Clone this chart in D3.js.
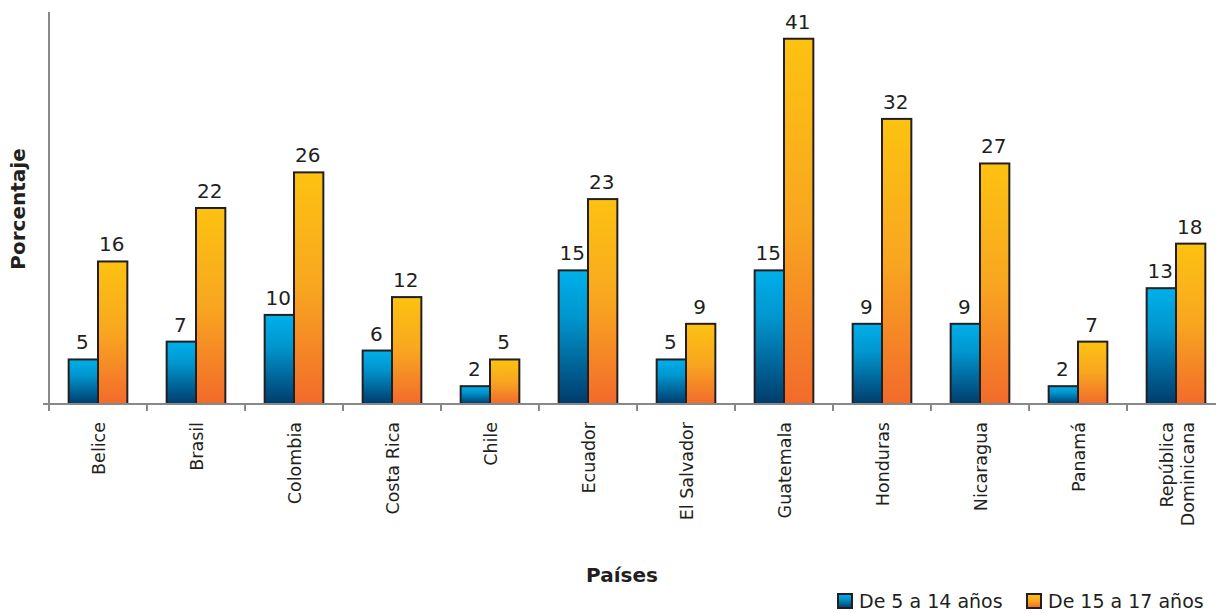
<!DOCTYPE html>
<html>
<head>
<meta charset="utf-8">
<script src="https://cdn.jsdelivr.net/npm/d3@7"></script>
<style>
  body { margin: 0; background: #fff; }
  text { font-family: "DejaVu Sans", Verdana, sans-serif; fill: #231f20; }
</style>
</head>
<body>
<div id="chart"></div>
<script>
// data
const countries = ["Belice", "Brasil", "Colombia", "Costa Rica", "Chile", "Ecuador",
  "El Salvador", "Guatemala", "Honduras", "Nicaragua", "Panamá", "República Dominicana"]
const young = [5, 7, 10, 6, 2, 15, 5, 15, 9, 9, 2, 13]      // De 5 a 14 años
const older = [16, 22, 26, 12, 5, 23, 9, 41, 32, 27, 7, 18]  // De 15 a 17 años
const seriesNames = ["De 5 a 14 años", "De 15 a 17 años"]

function drawChart() {
  const width = 1216
  const height = 613
  const margin = {left: 49, top: 12, bottom: 209}
  const plotRight = 1225

  const svg = d3.select("#chart").append("svg")
      .attr("width", width)
      .attr("height", height)

  // gradients for the bars
  const defs = svg.append("defs")
  const gradBlue = defs.append("linearGradient").attr("id", "gBlue")
      .attr("x1", 0).attr("y1", 0).attr("x2", 0).attr("y2", 1)
  gradBlue.append("stop").attr("offset", "0%").attr("stop-color", "#00b0ea")
  gradBlue.append("stop").attr("offset", "35%").attr("stop-color", "#0096cf")
  gradBlue.append("stop").attr("offset", "100%").attr("stop-color", "#003c6c")
  const gradOrange = defs.append("linearGradient").attr("id", "gOrange")
      .attr("x1", 0).attr("y1", 0).attr("x2", 0).attr("y2", 1)
  gradOrange.append("stop").attr("offset", "0%").attr("stop-color", "#fdc211")
  gradOrange.append("stop").attr("offset", "50%").attr("stop-color", "#f8a620")
  gradOrange.append("stop").attr("offset", "100%").attr("stop-color", "#f26a2b")

  // scales
  const x = d3.scaleBand()
      .domain(countries)
      .range([margin.left, plotRight])
      .paddingInner(0).paddingOuter(0)
  const xInner = d3.scaleBand()
      .domain([0, 1])
      .range([0, x.bandwidth()])
      .paddingOuter(0.67).paddingInner(0)
  const y = d3.scaleLinear()
      .domain([0, 44])
      .range([height - margin.bottom, margin.top])

  const baseY = y(0)

  // bars
  const groups = svg.append("g").selectAll("g")
    .data(countries)
    .join("g")
      .attr("transform", d => `translate(${x(d)},0)`)

  const pairs = (d, i) => [{s: 0, v: young[i]}, {s: 1, v: older[i]}]

  groups.selectAll("rect")
    .data(pairs)
    .join("rect")
      .attr("x", d => xInner(d.s))
      .attr("width", xInner.bandwidth())
      .attr("y", d => y(d.v))
      .attr("height", d => baseY - y(d.v))
      .attr("fill", d => d.s == 0 ? "url(#gBlue)" : "url(#gOrange)")
      .attr("stroke", "#231f20")
      .attr("stroke-width", 2)

  groups.selectAll("text.val")
    .data(pairs)
    .join("text")
      .attr("class", "val")
      .attr("x", d => xInner(d.s) + xInner.bandwidth() / 2 - 1)
      .attr("y", d => y(d.v) - 10)
      .attr("text-anchor", "middle")
      .attr("font-size", 20)
      .text(d => d.v)

  // axes
  const axisG = svg.append("g").attr("stroke", "#888")
  axisG.append("line")
      .attr("x1", margin.left).attr("x2", margin.left)
      .attr("y1", margin.top).attr("y2", baseY)
      .attr("stroke-width", 2)
  axisG.append("line")
      .attr("x1", margin.left - 6).attr("x2", plotRight)
      .attr("y1", baseY).attr("y2", baseY)
      .attr("stroke-width", 2)
  axisG.selectAll("line.tick")
    .data(countries)
    .join("line")
      .attr("class", "tick")
      .attr("x1", d => x(d)).attr("x2", d => x(d))
      .attr("y1", baseY).attr("y2", baseY + 7)
      .attr("stroke-width", 2)

  // category labels
  const labels = svg.append("g").selectAll("text")
    .data(countries)
    .join("text")
      .attr("transform", d => `translate(${x(d) + x.bandwidth() / 2 + 7},${baseY + 18}) rotate(-90)`)
      .attr("text-anchor", "end")
      .attr("font-size", 17.5)
  labels.each(function (d) {
    const words = d == "República Dominicana" ? ["República", "Dominicana"] : [d]
    const t = d3.select(this)
    words.forEach((w, k) => {
      t.append("tspan")
        .attr("x", 0)
        .attr("dy", k == 0 ? (words.length > 1 ? "-0.6em" : "0") : "1.2em")
        .text(w)
    })
  })

  // axis titles
  svg.append("text")
      .attr("transform", `translate(25,${209}) rotate(-90)`)
      .attr("text-anchor", "middle")
      .attr("font-size", 20)
      .attr("font-weight", "bold")
      .text("Porcentaje")
  svg.append("text")
      .attr("x", 622).attr("y", 582)
      .attr("text-anchor", "middle")
      .attr("font-size", 20)
      .attr("font-weight", "bold")
      .text("Países")

  // legend
  const legendX = [838, 1027]
  const legend = svg.append("g").selectAll("g")
    .data(seriesNames)
    .join("g")
      .attr("transform", (d, i) => `translate(${legendX[i]},594)`)
  legend.append("rect")
      .attr("width", 14).attr("height", 14)
      .attr("fill", (d, i) => i == 0 ? "url(#gBlue)" : "url(#gOrange)")
      .attr("stroke", "#231f20").attr("stroke-width", 2)
  legend.append("text")
      .attr("x", 21).attr("y", 14)
      .attr("font-size", 19)
      .text(d => d)
}

window.onload = function () {
  drawChart()
}
</script>
</body>
</html>
